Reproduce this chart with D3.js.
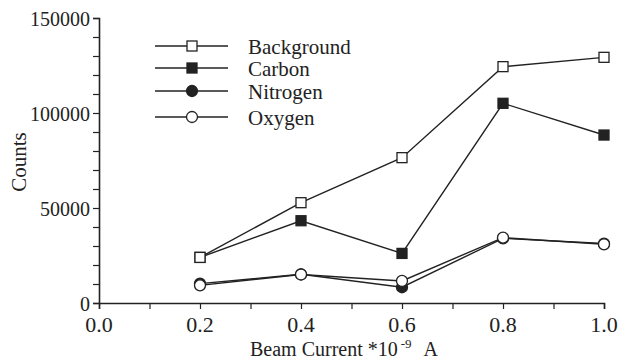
<!DOCTYPE html>
<html>
<head>
<meta charset="utf-8">
<script src="https://cdn.jsdelivr.net/npm/d3@7"></script>
<style>
  body { margin: 0; background: #fff; }
</style>
</head>
<body>
<script>
// beam current values (x 10^-9 A)
const currents = [0.2, 0.4, 0.6, 0.8, 1.0];

// counts
const background = [24000, 52800, 76500, 124400, 129300];
const carbon     = [24000, 43300, 26100, 105100, 88400];
const nitrogen   = [10200, 15100, 8300, 34000, 31300];
const oxygen     = [9300, 15000, 11600, 34400, 30900];

const xTicks = [0.0, 0.2, 0.4, 0.6, 0.8, 1.0];
const yTicks = [0, 50000, 100000, 150000];

const seriesNames = ['Background', 'Carbon', 'Nitrogen', 'Oxygen'];
const seriesData = [background, carbon, nitrogen, oxygen];
const markerShape = ['square', 'square', 'circle', 'circle'];
const markerFill = ['#fff', '#222', '#222', '#fff'];

const width = 621, height = 362;
const ink = '#222';

const svg = d3.select('body').append('svg')
  .attr('width', width)
  .attr('height', height)
  .attr('font-family', 'Liberation Serif');

const x = d3.scaleLinear().domain([0, 1.0]).range([99, 604]);
const y = d3.scaleLinear().domain([0, 150000]).range([303, 18]);

// axes with minor ticks
const xAxis = d3.axisBottom(x).tickValues(d3.range(0, 1.01, 0.1)).tickSize(6).tickFormat('');
const yAxis = d3.axisLeft(y).tickValues(d3.range(0, 150001, 10000)).tickSize(6).tickFormat('');

const gx = svg.append('g').attr('transform', `translate(0,${y(0)})`).call(xAxis);
const gy = svg.append('g').attr('transform', `translate(${x(0)},0)`).call(yAxis);
[gx, gy].forEach(g => {
  g.select('.domain').attr('stroke', ink).attr('stroke-width', 1.6);
  g.selectAll('.tick line').attr('stroke', ink).attr('stroke-width', 1.2);
});

// serif text helper
function serif(sel, size) {
  return sel.attr('font-family', 'Liberation Serif')
    .attr('font-size', size)
    .attr('fill', ink);
}

// tick labels
serif(svg.append('g').selectAll('text').data(xTicks).join('text'), 22)
  .attr('x', d => x(d))
  .attr('y', 332)
  .attr('text-anchor', 'middle')
  .text(d => d.toFixed(1));

serif(svg.append('g').selectAll('text').data(yTicks).join('text'), 20)
  .attr('x', 90)
  .attr('y', d => y(d) + 8)
  .attr('text-anchor', 'end')
  .text(d => d);

// axis titles
serif(svg.append('text'), 21)
  .attr('transform', 'translate(26,162) rotate(-90)')
  .attr('text-anchor', 'middle')
  .text('Counts');

const xt = serif(svg.append('text'), 20)
  .attr('x', 250)
  .attr('y', 356);
xt.append('tspan').text('Beam Current *10');
xt.append('tspan').attr('dy', -8).attr('dx', 3).attr('font-size', 13).text('-9');
xt.append('tspan').attr('dy', 8).attr('dx', 12).text('A');

// lines and markers
const line = d3.line().x((d, i) => x(currents[i])).y(d => y(d));

function drawMarker(g, shape, fill, cx, cy) {
  if (shape === 'square') {
    g.append('rect')
      .attr('x', cx - 5).attr('y', cy - 5)
      .attr('width', 10).attr('height', 10)
      .attr('fill', fill).attr('stroke', ink).attr('stroke-width', 1.3);
  } else {
    g.append('circle')
      .attr('cx', cx).attr('cy', cy).attr('r', 5.5)
      .attr('fill', fill).attr('stroke', ink).attr('stroke-width', 1.3);
  }
}

// nitrogen first so oxygen sits on top where they overlap
[2, 1, 0, 3].forEach(k => {
  const g = svg.append('g');
  g.append('path')
    .attr('d', line(seriesData[k]))
    .attr('fill', 'none')
    .attr('stroke', ink)
    .attr('stroke-width', 1.4);
  seriesData[k].forEach((v, i) => drawMarker(g, markerShape[k], markerFill[k], x(currents[i]), y(v)));
});

// legend
const legendRows = [46, 68, 91, 117];
seriesNames.forEach((name, k) => {
  const g = svg.append('g');
  const ly = legendRows[k];
  g.append('line')
    .attr('x1', 155).attr('x2', 228)
    .attr('y1', ly).attr('y2', ly)
    .attr('stroke', ink).attr('stroke-width', 1.4);
  drawMarker(g, markerShape[k], markerFill[k], 192, ly);
  serif(g.append('text'), 21)
    .attr('x', 248)
    .attr('y', ly + 8)
    .text(name);
});
</script>
</body>
</html>
